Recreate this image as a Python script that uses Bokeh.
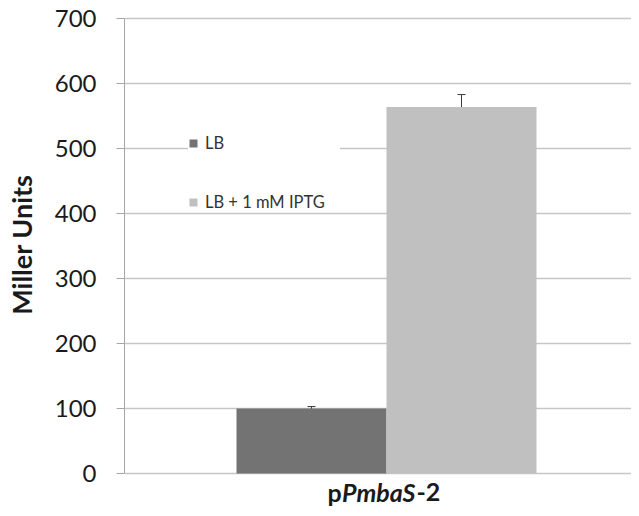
from bokeh.plotting import figure
from bokeh.models import (Range1d, ColumnDataSource, Whisker, TeeHead, Label,
                          Legend, LegendItem, FixedTicker)
from bokeh.transform import dodge
from bokeh.embed import file_html
from bokeh.resources import INLINE

# ---- data ----
categories = ["pPmbaS-2"]
series_names = ["LB", "LB + 1 mM IPTG"]
lb_values = [100]
lb_errors = [3]
iptg_values = [564]
iptg_errors = [19]
y_ticks = [0, 100, 200, 300, 400, 500, 600, 700]
y_title = "Miller Units"

cat_pos = list(range(len(categories)))

src_lb = ColumnDataSource(dict(
    x=cat_pos, top=lb_values,
    upper=[v + e for v, e in zip(lb_values, lb_errors)],
    lower=[v - e for v, e in zip(lb_values, lb_errors)]))
src_iptg = ColumnDataSource(dict(
    x=cat_pos, top=iptg_values,
    upper=[v + e for v, e in zip(iptg_values, iptg_errors)],
    lower=[v - e for v, e in zip(iptg_values, iptg_errors)]))

FONT = "Lato"
GRID = "#c6c6c6"
PX = 0.65  # pixels per Miller unit

p = figure(width=631, height=508, output_backend="svg", toolbar_location=None,
           x_range=Range1d(-0.524, 0.49),
           y_range=Range1d(-35 / PX, 700 + 18 / PX),
           min_border_left=124, min_border_right=0, min_border_top=0,
           min_border_bottom=0)
p.outline_line_color = None
p.background_fill_color = "white"
p.border_fill_color = "white"

bw = 0.3
r1 = p.vbar(x=dodge("x", -bw / 2, range=p.x_range), top="top", width=bw,
            source=src_lb, color="#737373", line_color=None)
r2 = p.vbar(x=dodge("x", bw / 2, range=p.x_range), top="top", width=bw,
            source=src_iptg, color="#c0c0c0", line_color=None)

for src, off in ((src_lb, -bw / 2), (src_iptg, bw / 2)):
    w = Whisker(base=dodge("x", off, range=p.x_range), upper="upper", lower="lower",
                source=src, line_color="#3a3a3a", line_width=1,
                upper_head=TeeHead(size=8, line_color="#3a3a3a", line_width=1),
                lower_head=TeeHead(size=8, line_color="#3a3a3a", line_width=1))
    p.add_layout(w)

# axes
p.xaxis.visible = False
p.xgrid.visible = False
p.ygrid.grid_line_color = GRID
p.ygrid.grid_line_width = 1.5
p.ygrid.bounds = (0, 700)
p.yaxis.bounds = (0, 700)
p.yaxis.ticker = FixedTicker(ticks=y_ticks)
p.ygrid.ticker = FixedTicker(ticks=y_ticks)
p.yaxis.minor_tick_line_color = None
p.yaxis.major_tick_in = 0
p.yaxis.major_tick_out = 8
p.yaxis.major_tick_line_color = "#a6a6a6"
p.yaxis.axis_line_color = "#a6a6a6"
p.yaxis.major_label_text_font = FONT
p.yaxis.major_label_text_font_size = "24px"
p.yaxis.major_label_text_color = "#1a1a1a"
p.yaxis.major_label_standoff = 20
# leading no-break spaces nudge the centred title up to the middle of the 0-700 span
p.yaxis.axis_label = "\u00a0\u00a0\u00a0" + y_title
p.yaxis.axis_label_text_font = FONT
p.yaxis.axis_label_text_font_size = "27px"
p.yaxis.axis_label_text_font_style = "bold"
p.yaxis.axis_label_text_color = "#1a1a1a"
p.yaxis.axis_label_standoff = 14

# category label with mixed styles
ly = -29
parts = [("p", "bold", -59), ("PmbaS", "bold italic", -44.4), ("-2", "bold", 30)]
for txt, style, off in parts:
    p.add_layout(Label(x=cat_pos[0], y=ly, text=txt, x_offset=off,
                       text_font=FONT, text_font_size="25px", text_font_style=style,
                       text_color="#1a1a1a", text_align="left",
                       text_baseline="alphabetic"))

legend = Legend(items=[LegendItem(label=series_names[0], renderers=[r1]),
                       LegendItem(label=series_names[1], renderers=[r2])],
                location=(64, 296), orientation="vertical",
                glyph_width=10, glyph_height=10, label_standoff=7,
                label_text_font=FONT, label_text_font_size="16.5px",
                label_text_color="#333333", label_height=20, label_width=135,
                spacing=39, padding=8, margin=0,
                border_line_color=None, background_fill_color="white",
                background_fill_alpha=1.0)
p.add_layout(legend, "center")

open("out.html", "w").write(file_html(p, INLINE))
